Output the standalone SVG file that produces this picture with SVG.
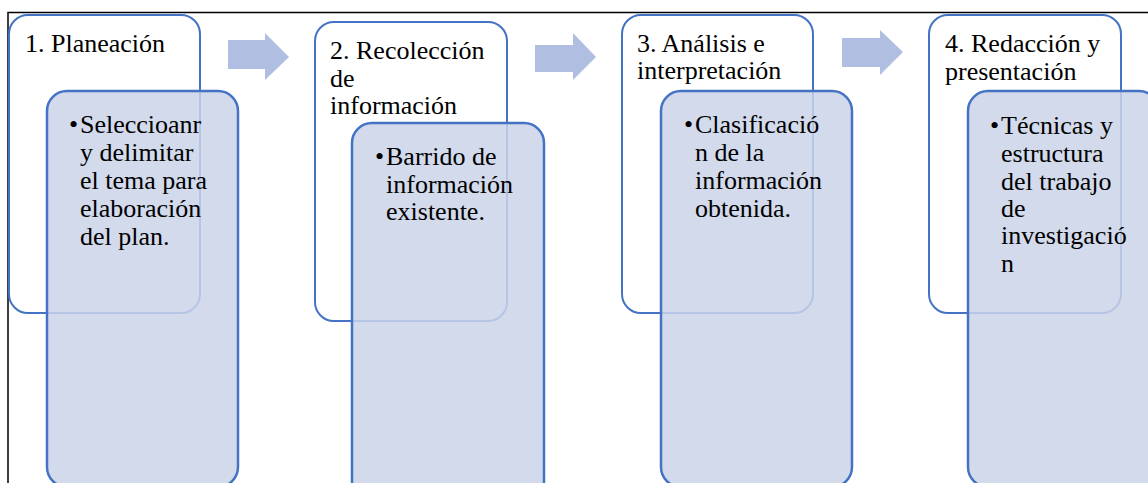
<svg xmlns="http://www.w3.org/2000/svg" width="1148" height="483" viewBox="0 0 1148 483">
<style>
.frame{fill:none;stroke:#000;stroke-width:1.5}
.head{fill:#fff;stroke:#4472C4;stroke-width:2}
.body{fill:rgb(202,211,233);fill-opacity:0.85;stroke:#4472C4;stroke-width:2.5}
.arrow{fill:#B0BEE1;stroke:none}
.t{font-family:'Liberation Serif','Times New Roman',Times,'DejaVu Serif',serif;font-size:26px;fill:#000}
</style>
<rect width="1148" height="483" fill="#fff"/>
<path class="frame" d="M8,495 L8,12.5 L1155,12.5"/>
<g id="connectors">
<polygon class="arrow" points="228,40 265,40 265,33 289,57 265,80 265,69 228,69"/>
<polygon class="arrow" points="535,45 573,45 573,33 596,57 573,80 573,72 535,72"/>
<polygon class="arrow" points="842,38 880,38 880,30 903,52 880,75 880,67 842,67"/>
</g>
<g id="node1" class="t" font-family="Liberation Serif, serif">
<rect class="head" x="9" y="15" width="191" height="298" rx="19"/>
<text x="25" y="52">1. Planeación</text>
<rect class="body" x="47" y="91" width="191" height="396" rx="20"/>
<text x="69" y="133">•</text>
<text x="80" y="133">Seleccioanr</text>
<text x="80" y="161">y delimitar</text>
<text x="80" y="189">el tema para</text>
<text x="80" y="217">elaboración</text>
<text x="80" y="245">del plan.</text>
</g>
<g id="node2" class="t" font-family="Liberation Serif, serif">
<rect class="head" x="315" y="22" width="192" height="299" rx="19"/>
<text x="330" y="59">2. Recolección</text>
<text x="330" y="87">de</text>
<text x="330" y="114">información</text>
<rect class="body" x="352" y="123" width="192" height="396" rx="20"/>
<text x="375" y="165">•</text>
<text x="386" y="165">Barrido de</text>
<text x="386" y="193">información</text>
<text x="386" y="220">existente.</text>
</g>
<g id="node3" class="t" font-family="Liberation Serif, serif">
<rect class="head" x="622" y="15" width="191" height="298" rx="19"/>
<text x="637" y="52">3. Análisis e</text>
<text x="637" y="79">interpretación</text>
<rect class="body" x="661" y="91" width="191" height="396" rx="20"/>
<text x="684" y="133">•</text>
<text x="695" y="133">Clasificació</text>
<text x="695" y="161">n de la</text>
<text x="695" y="189">información</text>
<text x="695" y="217">obtenida.</text>
</g>
<g id="node4" class="t" font-family="Liberation Serif, serif">
<rect class="head" x="929" y="15" width="192" height="298" rx="19"/>
<text x="945" y="52">4. Redacción y</text>
<text x="945" y="80">presentación</text>
<rect class="body" x="968" y="91" width="191" height="396" rx="20"/>
<text x="990" y="134">•</text>
<text x="1001" y="134">Técnicas y</text>
<text x="1001" y="162">estructura</text>
<text x="1001" y="190">del trabajo</text>
<text x="1001" y="217">de</text>
<text x="1001" y="244">investigació</text>
<text x="1001" y="272">n</text>
</g>
</svg>
